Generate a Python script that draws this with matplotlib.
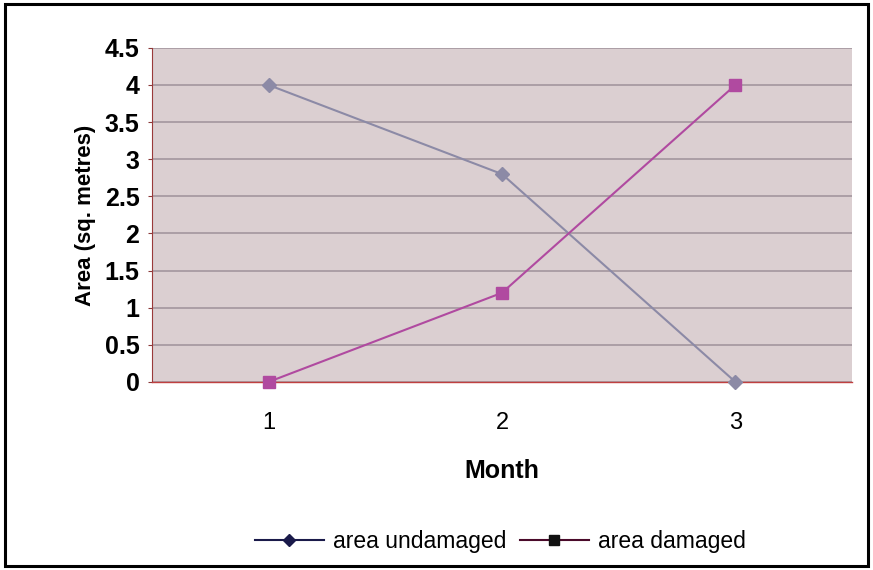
#!/usr/bin/env python3
import matplotlib
matplotlib.use("Agg")
import matplotlib.pyplot as plt
from matplotlib.lines import Line2D
from matplotlib.patches import Rectangle

months = [1, 2, 3]
area_undamaged = [4.0, 2.8, 0.0]
area_damaged = [0.0, 1.2, 4.0]
y_ticks = [0, 0.5, 1, 1.5, 2, 2.5, 3, 3.5, 4, 4.5]
y_tick_labels = ["0", "0.5", "1", "1.5", "2", "2.5", "3", "3.5", "4", "4.5"]

plt.rcParams["font.family"] = ["Liberation Sans", "DejaVu Sans"]

fig = plt.figure(figsize=(8.73, 5.70), dpi=100)
fig.patch.set_facecolor("white")
# frame around the whole chart
fig.patches.append(Rectangle((0.006, 0.007), 0.988, 0.986, transform=fig.transFigure,
                             fill=False, edgecolor="black", linewidth=2.2))

ax = fig.add_axes([0.174, 0.330, 0.802, 0.586])
ax.set_facecolor("#dbcfd1")

ax.plot(months, area_undamaged, color="#8c8aa6", linewidth=1.5, marker="D",
        markersize=7, markerfacecolor="#8c8aa6", markeredgecolor="#8c8aa6",
        zorder=3, clip_on=False)
ax.plot(months, area_damaged, color="#b04aa0", linewidth=1.5, marker="s",
        markersize=8, markerfacecolor="#b04aa0", markeredgecolor="#b04aa0",
        zorder=3, clip_on=False)

ax.set_xlim(0.5, 3.5)
ax.set_ylim(0, 4.5)
ax.set_xticks(months)
ax.set_xticklabels([str(m) for m in months], fontsize=17)
ax.set_yticks(y_ticks)
ax.set_yticklabels(y_tick_labels, fontsize=18, fontweight="bold")
ax.tick_params(axis="y", length=3, color="#8b3a3a", pad=6)
ax.tick_params(axis="x", length=0, pad=22)

ax.yaxis.grid(True, color="#a89aa2", linewidth=1.3)
ax.set_axisbelow(True)
for side in ["top", "right"]:
    ax.spines[side].set_visible(False)
ax.spines["left"].set_color("#9a3a3a")
ax.spines["left"].set_linewidth(0.8)
ax.spines["bottom"].set_color("#c04040")
ax.spines["bottom"].set_linewidth(1.0)

ax.set_xlabel("Month", fontsize=18, fontweight="bold", labelpad=18)
ax.set_ylabel("Area (sq. metres)", fontsize=16, fontweight="bold", labelpad=6)

handles = [
    Line2D([], [], color="#1a1a4a", marker="D", markersize=6, linewidth=1.5),
    Line2D([], [], color="#4a0a2a", marker="s", markersize=7, linewidth=1.5,
           markerfacecolor="#111111", markeredgecolor="#111111"),
]
fig.legend(handles, ["area undamaged", "area damaged"], loc="center",
           bbox_to_anchor=(0.573, 0.05), ncol=2, frameon=False, fontsize=16.5,
           handlelength=3.0, handletextpad=0.4, columnspacing=0.6)

fig.savefig("out.png", dpi=100)
